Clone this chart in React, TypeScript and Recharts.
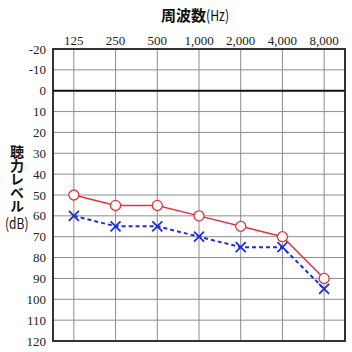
import {
    LineChart,
    Line,
    XAxis,
    YAxis,
    CartesianGrid,
    ReferenceLine,
    ReferenceArea,
} from "recharts";

const frequencies = ["125", "250", "500", "1,000", "2,000", "4,000", "8,000"];
const rightEar = [50, 55, 55, 60, 65, 70, 90];
const leftEar = [60, 65, 65, 70, 75, 75, 95];
const levelTicks = [-20, -10, 0, 10, 20, 30, 40, 50, 60, 70, 80, 90, 100, 110, 120];

const data = frequencies.map((f, i) => ({
    idx: i,
    freq: f,
    right: rightEar[i],
    left: leftEar[i],
}));

const RED = "#e8333a";
const BLUE = "#1f2fd8";

const CrossDot = (props: any) => {
    const { cx, cy } = props;
    if (cx == null || cy == null) return null;
    const s = 5;
    return (
        <g>
            <line x1={cx - s} y1={cy - s} x2={cx + s} y2={cy + s} stroke={BLUE} strokeWidth={1.8} />
            <line x1={cx - s} y1={cy + s} x2={cx + s} y2={cy - s} stroke={BLUE} strokeWidth={1.8} />
        </g>
    );
};

const tickStyle = {
    fontFamily: "'Liberation Serif', serif",
    fontSize: 13,
    fill: "#222",
};

const jpFont = "'Noto Sans CJK JP', sans-serif";

export default function App() {
    return (
        <div style={{ position: "absolute", left: 0, top: 0, width: 352, height: 352, background: "#fff" }}>
            {/* title */}
            <div
                style={{
                    position: "absolute",
                    left: 161,
                    top: 6,
                    fontFamily: jpFont,
                    fontWeight: 700,
                    fontSize: 15,
                    lineHeight: "18px",
                    color: "#111",
                    whiteSpace: "nowrap",
                }}
            >
                周波数
                <span
                    style={{
                        display: "inline-block",
                        fontWeight: 400,
                        transform: "scaleX(0.82)",
                        transformOrigin: "left center",
                    }}
                >
                    (Hz)
                </span>
            </div>

            {/* y label, stacked vertically */}
            <div
                style={{
                    position: "absolute",
                    left: 9,
                    top: 145,
                    writingMode: "vertical-rl",
                    textOrientation: "upright",
                    fontFamily: jpFont,
                    fontWeight: 700,
                    fontSize: 14,
                    lineHeight: "16px",
                    letterSpacing: -0.5,
                    color: "#111",
                }}
            >
                聴力レベル
            </div>
            <div
                style={{
                    position: "absolute",
                    left: 5,
                    top: 214,
                    fontFamily: jpFont,
                    fontSize: 15,
                    lineHeight: "18px",
                    color: "#111",
                    transform: "scaleX(0.8)",
                    transformOrigin: "left center",
                    whiteSpace: "nowrap",
                }}
            >
                (dB)
            </div>

            <LineChart
                width={352}
                height={352}
                data={data}
                margin={{ top: 0, right: 7, bottom: 11, left: 0 }}
            >
                <CartesianGrid stroke="#8c8c8c" strokeWidth={1} />
                <XAxis
                    dataKey="idx"
                    type="number"
                    orientation="top"
                    domain={[-0.5, 6.5]}
                    ticks={[0, 1, 2, 3, 4, 5, 6]}
                    tickFormatter={(v: number) => frequencies[v] ?? ""}
                    height={49}
                    tickSize={0}
                    tickMargin={4}
                    axisLine={false}
                    tick={tickStyle}
                    interval={0}
                />
                <YAxis
                    type="number"
                    domain={[-20, 120]}
                    reversed
                    ticks={levelTicks}
                    width={53}
                    tickSize={0}
                    tickMargin={7}
                    axisLine={false}
                    tick={tickStyle}
                    interval={0}
                />
                <ReferenceLine y={0} stroke="#111" strokeWidth={2} />
                <ReferenceArea
                    x1={-0.5}
                    x2={6.5}
                    y1={-20}
                    y2={120}
                    fill="none"
                    fillOpacity={0}
                    stroke="#333"
                    strokeWidth={2}
                />
                <Line
                    dataKey="left"
                    stroke={BLUE}
                    strokeWidth={2}
                    strokeDasharray="4 3"
                    dot={<CrossDot />}
                    isAnimationActive={false}
                />
                <Line
                    dataKey="right"
                    stroke={RED}
                    strokeWidth={1.5}
                    dot={{ r: 5, stroke: RED, strokeWidth: 1.3, fill: "#fff" }}
                    isAnimationActive={false}
                />
            </LineChart>
        </div>
    );
}
